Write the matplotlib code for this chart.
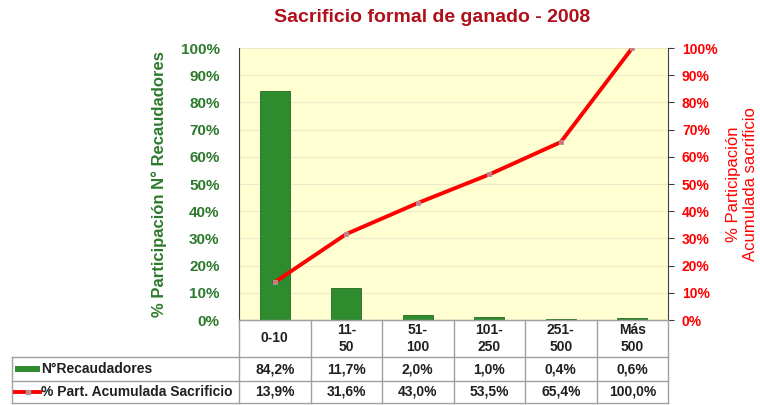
import matplotlib
matplotlib.use("Agg")
import matplotlib.pyplot as plt
from matplotlib.patches import Rectangle
from matplotlib.lines import Line2D
import matplotlib.transforms as mtransforms

plt.rcParams['font.family'] = ['Liberation Sans', 'DejaVu Sans']

categories = ["0-10", "11-\n50", "51-\n100", "101-\n250", "251-\n500", "Más\n500"]
recaudadores = [84.2, 11.7, 2.0, 1.0, 0.4, 0.6]
acumulado = [13.9, 31.6, 43.0, 53.5, 65.4, 100.0]
series_names = ["N°Recaudadores", "% Part. Acumulada Sacrificio"]
ticks = list(range(0, 101, 10))

GREEN = "#2E8B2E"
GREEN_TXT = "#2D7A2D"
RED = "#FF0000"
TITLE_RED = "#B0101A"
GRID = "#ECEAC8"
TBL = "#A0A0A0"

def fmt(v):
    return f"{v:.1f}%".replace(".", ",")

fig = plt.figure(figsize=(7.6, 4.05), dpi=100)
W, H = 760, 405
left, right, top, bottom = 239, 668, 48, 320
ax = fig.add_axes([left / W, 1 - bottom / H, (right - left) / W, (bottom - top) / H])
ax.set_facecolor("#FFFFD2")

x = list(range(len(categories)))
ax.bar(x, recaudadores, width=0.42, color=GREEN, edgecolor="#1F6B1F", linewidth=0.6, zorder=3)
ax.set_xlim(-0.5, len(categories) - 0.5)
ax.set_ylim(0, 100)
ax.set_yticks(ticks)
ax.set_yticklabels([f"{t}%" for t in ticks], color=GREEN_TXT, fontsize=11, fontweight="bold")
ax.tick_params(axis="y", length=0, pad=14)
ax.set_xticks([])
ax.yaxis.grid(True, color=GRID, linewidth=0.8, zorder=0)
for s in ["top", "right"]:
    ax.spines[s].set_visible(False)
ax.spines["left"].set_color("#404040")
ax.spines["bottom"].set_color("#808080")
ax.set_ylabel("% Participación N° Recaudadores", color=GREEN_TXT, fontsize=12,
              fontweight="bold", labelpad=10)

ax2 = ax.twinx()
ax2.set_ylim(0, 100)
ax2.plot(x, acumulado, color=RED, linewidth=2.8, marker="s", markersize=3.5,
         markerfacecolor="#E07080", markeredgecolor="#A0A0A0", markeredgewidth=0.6, zorder=4)
ax2.set_yticks(ticks)
ax2.set_yticklabels([f"{t}%" for t in ticks], color=RED, fontsize=10, fontweight="bold")
ax2.tick_params(axis="y", direction="out", length=4, color="#404040", pad=6)
for s in ["top", "left", "bottom"]:
    ax2.spines[s].set_visible(False)
ax2.spines["right"].set_color("#404040")
ax2.set_ylabel("% Participación\nAcumulada sacrificio", color=RED, fontsize=12, labelpad=6)

fig.text(432 / W, 1 - 17 / H, "Sacrificio formal de ganado - 2008", color=TITLE_RED,
         fontsize=14, fontweight="bold", ha="center", va="center")

# data table under the plot area
tr = mtransforms.blended_transform_factory(ax.transData, fig.transFigure)
def fy(py):
    return 1 - py / H

x_left = -0.5 - (left - 12) / ((right - left) / len(categories))
row_y = [320, 357, 381, 403]
x_edges = [i - 0.5 for i in range(len(categories) + 1)]

def hline(x0, x1, py):
    fig.add_artist(Line2D([x0, x1], [fy(py), fy(py)], transform=tr, color=TBL, lw=1.0))

def vline(xx, py0, py1):
    fig.add_artist(Line2D([xx, xx], [fy(py0), fy(py1)], transform=tr, color=TBL, lw=1.0))

hline(x_edges[0], x_edges[-1], row_y[0])
for py in row_y[1:]:
    hline(x_left, x_edges[-1], py)
for xe in x_edges:
    vline(xe, row_y[0], row_y[-1])
vline(x_left, row_y[1], row_y[-1])

TFS = 10
for i, c in enumerate(categories):
    fig.text(i, fy((row_y[0] + row_y[1]) / 2), c, transform=tr, ha="center", va="center",
             fontsize=TFS, fontweight="bold", linespacing=1.35, color="#202020")
    fig.text(i, fy((row_y[1] + row_y[2]) / 2), fmt(recaudadores[i]), transform=tr,
             ha="center", va="center", fontsize=TFS, fontweight="bold", color="#202020")
    fig.text(i, fy((row_y[2] + row_y[3]) / 2), fmt(acumulado[i]), transform=tr,
             ha="center", va="center", fontsize=TFS, fontweight="bold", color="#202020")

# legend keys in the first column
kx0, kx1 = 15 / W, 40 / W
fig.add_artist(Rectangle((kx0, fy(372)), kx1 - kx0, 6 / H, transform=fig.transFigure,
                         facecolor=GREEN, edgecolor="none"))
fig.add_artist(Line2D([kx0, kx1], [fy(392), fy(392)], transform=fig.transFigure,
                      color=RED, lw=2.8))
fig.add_artist(Line2D([(kx0 + kx1) / 2], [fy(392)], transform=fig.transFigure,
                      color=RED, lw=0, marker="s", markersize=3.5,
                      markerfacecolor="#E07080", markeredgecolor="#A0A0A0"))
fig.text(41 / W, fy((row_y[1] + row_y[2]) / 2), series_names[0], ha="left", va="center",
         fontsize=TFS, fontweight="bold", color="#202020")
fig.text(41 / W, fy((row_y[2] + row_y[3]) / 2), series_names[1], ha="left", va="center",
         fontsize=TFS, fontweight="bold", color="#202020")

fig.savefig("out.png", dpi=100, facecolor="white")
